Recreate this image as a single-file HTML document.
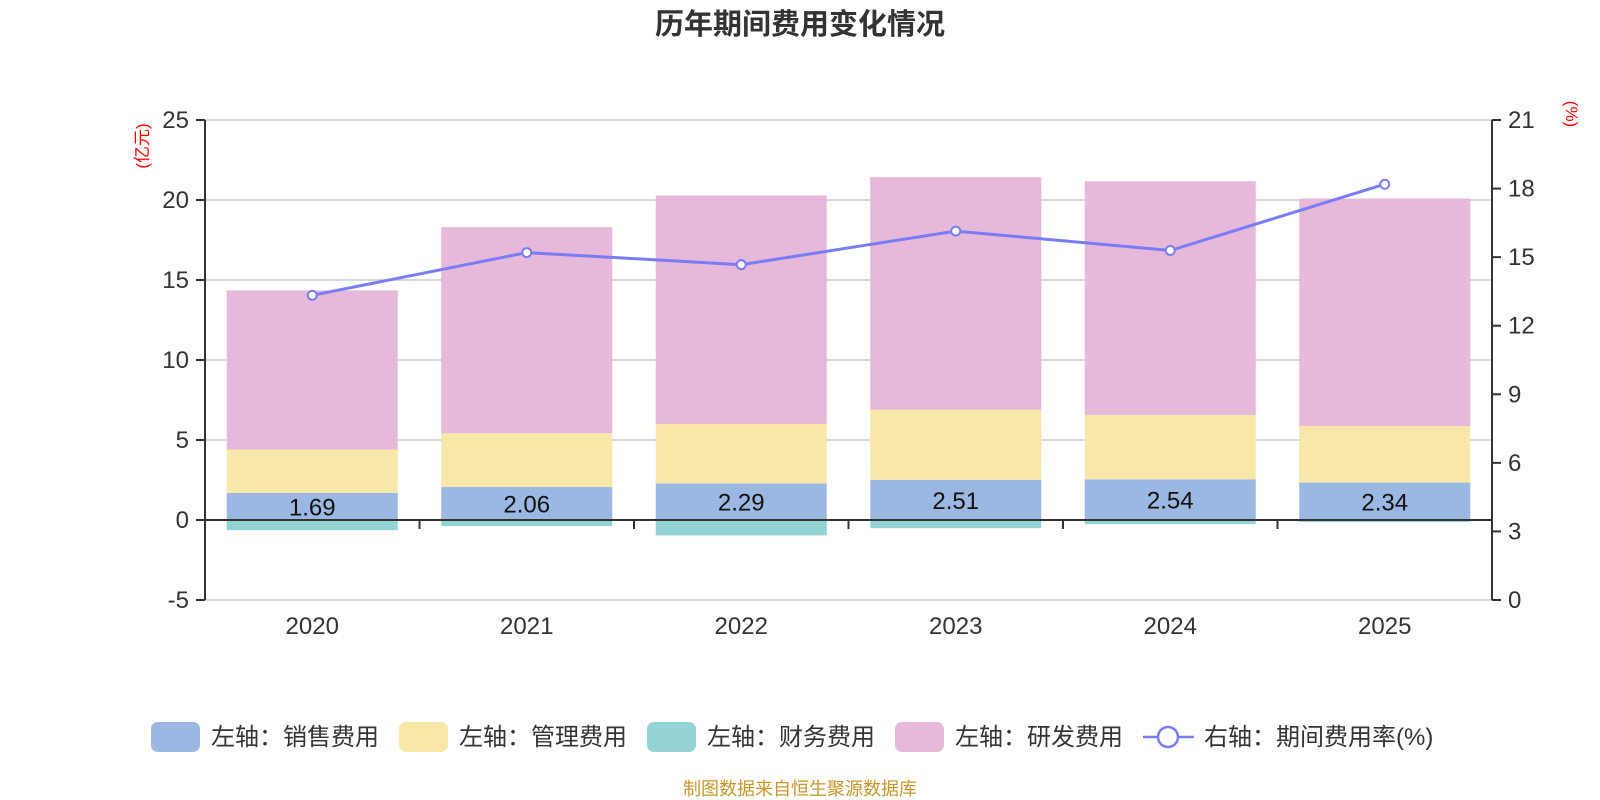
<!DOCTYPE html>
<html><head><meta charset="utf-8">
<style>
body{margin:0;background:#fff;}
svg{display:block;font-family:"Liberation Sans","Noto Sans CJK SC",sans-serif;}
</style></head>
<body>
<svg id="chart" width="1600" height="800" viewBox="0 0 1600 800">
<text x="800" y="34" text-anchor="middle" font-size="29" font-weight="bold" fill="#333">历年期间费用变化情况</text>
<text transform="translate(148,146) rotate(-90)" text-anchor="middle" font-size="17" fill="#f00">(亿元)</text>
<text transform="translate(1566,114) rotate(90)" text-anchor="middle" font-size="17" fill="#f00">(%)</text>
<g id="grid"></g><g id="bars"></g><g id="axes"></g><g id="line"></g>
<g font-size="24" fill="#333">
<rect x="151" y="722" width="49" height="30" rx="7" fill="#9bb8e2"/>
<text x="211" y="745">左轴：销售费用</text>
<rect x="399" y="722" width="49" height="30" rx="7" fill="#f7e7a9"/>
<text x="459" y="745">左轴：管理费用</text>
<rect x="647" y="722" width="49" height="30" rx="7" fill="#94d3d3"/>
<text x="707" y="745">左轴：财务费用</text>
<rect x="895" y="722" width="49" height="30" rx="7" fill="#e6b8d9"/>
<text x="955" y="745">左轴：研发费用</text>
<line x1="1143" y1="737" x2="1194" y2="737" stroke="#7a7cf5" stroke-width="2.5"/>
<circle cx="1168" cy="737" r="10" fill="#fff" stroke="#7a7cf5" stroke-width="2.5"/>
<text x="1204" y="745">右轴：期间费用率(%)</text>
</g>
<text x="800" y="795" text-anchor="middle" font-size="18" fill="#c8962a">制图数据来自恒生聚源数据库</text>
</svg>
<script>
const categories=["2020","2021","2022","2023","2024","2025"];
const sales=[1.69,2.06,2.29,2.51,2.54,2.34];
const admin=[2.71,3.36,3.71,4.38,4.03,3.53];
const finance=[-0.64,-0.38,-0.96,-0.51,-0.26,-0.13];
const rd=[9.95,12.88,14.28,14.54,14.60,14.22];
const rate=[13.33,15.20,14.67,16.14,15.29,18.19];
const leftTicks=[-5,0,5,10,15,20,25];
const rightTicks=[0,3,6,9,12,15,18,21];

const NS="http://www.w3.org/2000/svg";
const X0=205,X1=1492,YT=120,YB=600;
const yL=v=>YB-(v-(-5))/30*(YB-YT);
const yR=v=>YB-v/21*(YB-YT);
const band=(X1-X0)/categories.length;
const xc=i=>X0+band*(i+0.5);
const bw=171;
function mk(tag,attrs,parent){const e=document.createElementNS(NS,tag);for(const k in attrs)e.setAttribute(k,attrs[k]);parent.appendChild(e);return e;}
const grid=document.getElementById('grid'),bars=document.getElementById('bars'),axes=document.getElementById('axes'),line=document.getElementById('line');

leftTicks.forEach(t=>{
  if(t!==0){const g=mk('line',{x1:X0,x2:X1,y1:yL(t),y2:yL(t),stroke:'#ccc','stroke-width':1.5},grid);
  
  }
  const tk=mk('line',{x1:X0-9,x2:X0,y1:yL(t),y2:yL(t),stroke:'#333','stroke-width':2},axes);
  
  
  const tx=mk('text',{x:X0-16,y:yL(t)+8,'text-anchor':'end','font-size':24,fill:'#333'},axes);
  tx.textContent=t;
  
  
});
rightTicks.forEach(t=>{
  const tk=mk('line',{x1:X1,x2:X1+9,y1:yR(t),y2:yR(t),stroke:'#333','stroke-width':2},axes);
  
  
  const tx=mk('text',{x:X1+16,y:yR(t)+8,'font-size':24,fill:'#333'},axes);
  tx.textContent=t;
  
  
});
let a=mk('line',{x1:X0,x2:X0,y1:YT,y2:YB,stroke:'#333','stroke-width':2},axes);


a=mk('line',{x1:X1,x2:X1,y1:YT,y2:YB,stroke:'#333','stroke-width':2},axes);


a=mk('line',{x1:X0,x2:X1,y1:yL(0),y2:yL(0),stroke:'#333','stroke-width':2},axes);


for(let i=0;i<=categories.length;i++){
  const tk=mk('line',{x1:X0+band*i,x2:X0+band*i,y1:yL(0),y2:yL(0)+9,stroke:'#333','stroke-width':2},axes);
  
  
}
categories.forEach((c,i)=>{
  const tx=mk('text',{x:xc(i),y:634,'text-anchor':'middle','font-size':24,fill:'#333'},axes);
  tx.textContent=c;
  
  
  const x=xc(i)-bw/2;
  const s0=0,s1=sales[i],s2=s1+admin[i],s3=s2+rd[i];
  const segs=[[s0,s1,'#9bb8e2','bar-sales'],[s1,s2,'#f7e7a9','bar-admin'],[s2,s3,'#e6b8d9','bar-rd'],[finance[i],0,'#94d3d3','bar-finance']];
  segs.forEach(([lo,hi,col,nm])=>{
    const r=mk('rect',{x:x,y:yL(hi),width:bw,height:yL(lo)-yL(hi),fill:col},bars);
    
    
  });
  const lb=mk('text',{x:xc(i),y:(yL(0)+yL(s1))/2+9,'text-anchor':'middle','font-size':24,fill:'#111'},bars);
  lb.textContent=sales[i].toFixed(2);
  
  
});
const pl=mk('polyline',{points:rate.map((v,i)=>xc(i)+','+yR(v)).join(' '),fill:'none',stroke:'#7a7cf5','stroke-width':3},line);


rate.forEach((v,i)=>{
  const c=mk('circle',{cx:xc(i),cy:yR(v),r:4.5,fill:'#fff',stroke:'#7a7cf5','stroke-width':2},line);
  
  
});
</script>
</body></html>
